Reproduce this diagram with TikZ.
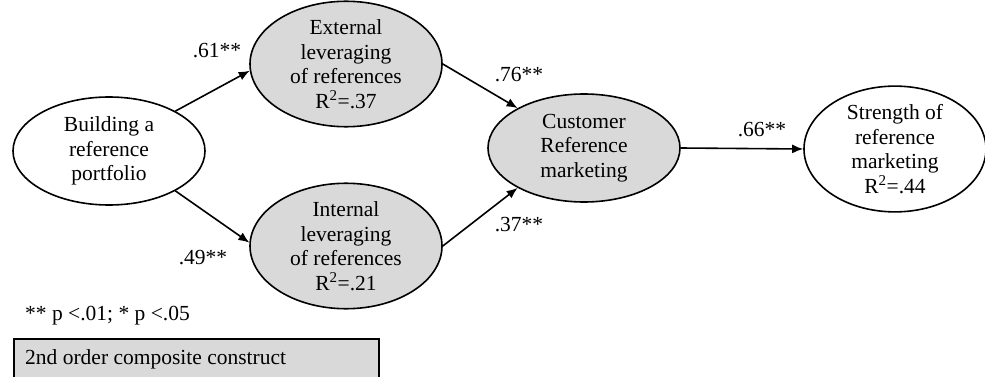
\documentclass[tikz,border=0pt]{standalone}
\usepackage{fontspec}
\setmainfont{Liberation Serif}
\usetikzlibrary{shapes.geometric,arrows.meta}
\definecolor{cgray}{HTML}{D9D9D9}
\tikzset{
  construct/.style={ellipse, draw=black, line width=1.6pt, inner sep=0pt,
    minimum width=192pt, minimum height=108pt, align=center,
    font=\fontsize{21.5}{24.5}\selectfont},
  gcon/.style={construct, fill=cgray},
  wcon/.style={construct, fill=white},
  path/.style={line width=1.6pt, -{Latex[length=11pt,width=9pt]}},
  coef/.style={font=\fontsize{21.5}{24.5}\selectfont, inner sep=0pt},
}
\begin{document}
\begin{tikzpicture}[x=1pt,y=-1pt]
\useasboundingbox (0,0) rectangle (985,377);
\node[wcon] (b) at (109,151) {Building a\\reference\\portfolio};
\node[gcon] (ext) at (346,64) {External\\leveraging\\of references\\R\textsuperscript{2}=.37};
\node[gcon] (int) at (346,246) {Internal\\leveraging\\of references\\R\textsuperscript{2}=.21};
\node[gcon] (cust) at (584,148) {Customer\\Reference\\marketing};
\node[wcon, minimum width=182pt] (str) at (895,149) {Strength of\\reference\\marketing\\R\textsuperscript{2}=.44};
\draw[path] (b.31) -- (ext.184);
\draw[path] (b.-31) -- (int.178);
\draw[path] (ext.east) -- (cust.149);
\draw[path] (int.east) -- (cust.211);
\draw[path] (cust.east) -- (str.west);
\node[coef] (c1) at (217,51) {.61**};
\node[coef] (c2) at (203,258) {.49**};
\node[coef] (c3) at (519,75) {.76**};
\node[coef] (c4) at (519,225) {.37**};
\node[coef] (c5) at (762,130) {.66**};
\node[coef, anchor=west] (note) at (25,316) {** p <.01; * p <.05};
\node[draw=black, line width=1.6pt, fill=cgray, anchor=north west,
  minimum width=365pt, minimum height=45pt, inner sep=0pt] (box) at (13,338) {};
\node[coef, anchor=west] (boxt) at (25,359) {2nd order composite construct};
\end{tikzpicture}
\end{document}
